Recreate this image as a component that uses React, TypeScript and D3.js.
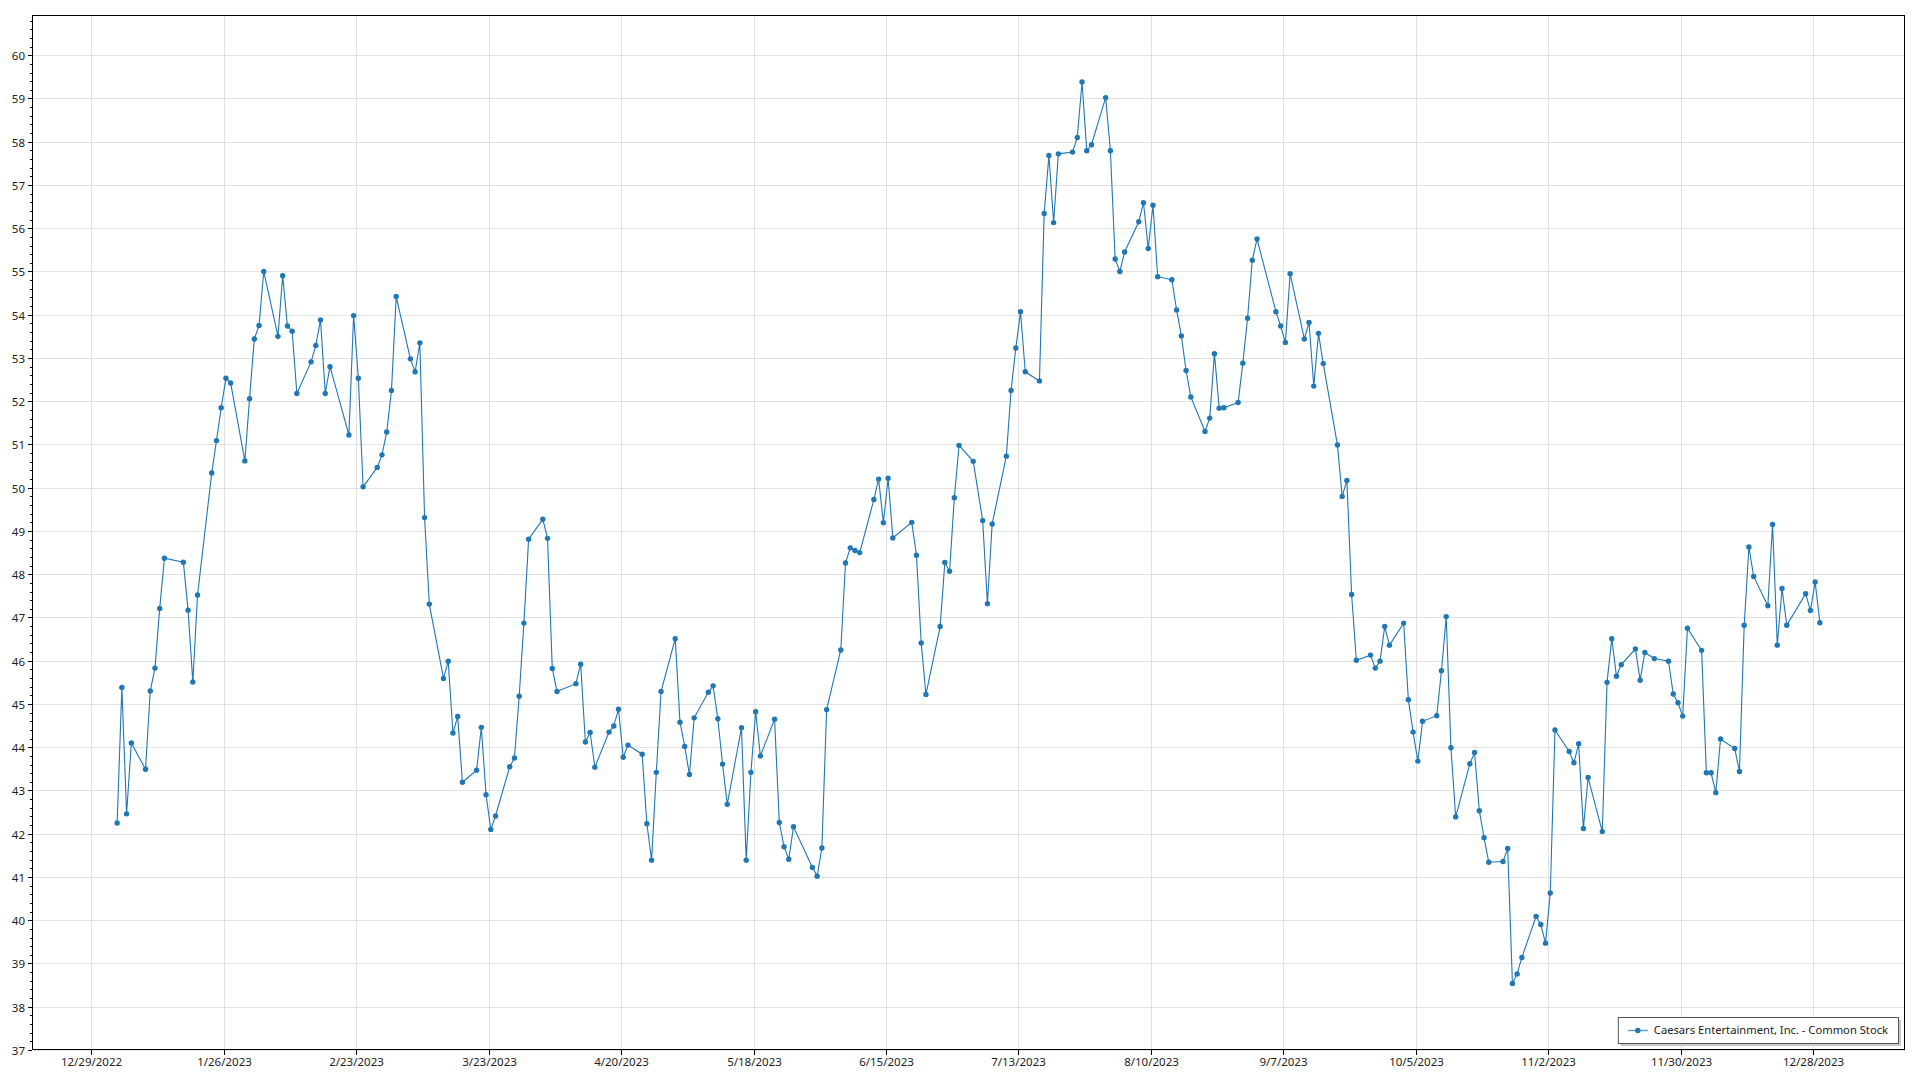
import * as d3 from 'd3';
import { useRef, useEffect } from 'react';

const year = 2023;
const seriesName = 'Caesars Entertainment, Inc. - Common Stock';

// trading days (MM-DD) and closing prices
const tradeDays = [
  '01-03', '01-04', '01-05', '01-06', '01-09', '01-10', '01-11', '01-12', '01-13', '01-17',
  '01-18', '01-19', '01-20', '01-23', '01-24', '01-25', '01-26', '01-27', '01-30', '01-31',
  '02-01', '02-02', '02-03', '02-06', '02-07', '02-08', '02-09', '02-10', '02-13', '02-14',
  '02-15', '02-16', '02-17', '02-21', '02-22', '02-23', '02-24', '02-27', '02-28',
  '03-01', '03-02', '03-03', '03-06', '03-07', '03-08', '03-09', '03-10', '03-13', '03-14',
  '03-15', '03-16', '03-17', '03-20', '03-21', '03-22', '03-23', '03-24', '03-27', '03-28',
  '03-29', '03-30', '03-31',
  '04-03', '04-04', '04-05', '04-06', '04-10', '04-11', '04-12', '04-13', '04-14', '04-17',
  '04-18', '04-19', '04-20', '04-21', '04-24', '04-25', '04-26', '04-27', '04-28',
  '05-01', '05-02', '05-03', '05-04', '05-05', '05-08', '05-09', '05-10', '05-11', '05-12',
  '05-15', '05-16', '05-17', '05-18', '05-19', '05-22', '05-23', '05-24', '05-25', '05-26',
  '05-30', '05-31',
  '06-01', '06-02', '06-05', '06-06', '06-07', '06-08', '06-09', '06-12', '06-13', '06-14',
  '06-15', '06-16', '06-20', '06-21', '06-22', '06-23', '06-26', '06-27', '06-28', '06-29',
  '06-30',
  '07-03', '07-05', '07-06', '07-07', '07-10', '07-11', '07-12', '07-13', '07-14', '07-17',
  '07-18', '07-19', '07-20', '07-21', '07-24', '07-25', '07-26', '07-27', '07-28', '07-31',
  '08-01', '08-02', '08-03', '08-04', '08-07', '08-08', '08-09', '08-10', '08-11', '08-14',
  '08-15', '08-16', '08-17', '08-18', '08-21', '08-22', '08-23', '08-24', '08-25', '08-28',
  '08-29', '08-30', '08-31',
  '09-01', '09-05', '09-06', '09-07', '09-08', '09-11', '09-12', '09-13', '09-14', '09-15',
  '09-18', '09-19', '09-20', '09-21', '09-22', '09-25', '09-26', '09-27', '09-28', '09-29',
  '10-02', '10-03', '10-04', '10-05', '10-06', '10-09', '10-10', '10-11', '10-12', '10-13',
  '10-16', '10-17', '10-18', '10-19', '10-20', '10-23', '10-24', '10-25', '10-26', '10-27',
  '10-30', '10-31',
  '11-01', '11-02', '11-03', '11-06', '11-07', '11-08', '11-09', '11-10', '11-13', '11-14',
  '11-15', '11-16', '11-17', '11-20', '11-21', '11-22', '11-24', '11-27', '11-28', '11-29',
  '11-30',
  '12-01', '12-04', '12-05', '12-06', '12-07', '12-08', '12-11', '12-12', '12-13', '12-14',
  '12-15', '12-18', '12-19', '12-20', '12-21', '12-22', '12-26', '12-27', '12-28', '12-29',
];

const closes = [
  42.25, 45.38, 42.46, 44.1, 43.49, 45.3, 45.83, 47.21, 48.37, 48.28,
  47.17, 45.51, 47.52, 50.34, 51.09, 51.85, 52.53, 52.42, 50.62, 52.06,
  53.44, 53.75, 55.0, 53.5, 54.9, 53.74, 53.62, 52.18, 52.91, 53.29,
  53.88, 52.18, 52.8, 51.22, 53.98, 52.53, 50.02, 50.47, 50.76,
  51.29, 52.25, 54.42, 52.98, 52.68, 53.35, 49.31, 47.31, 45.59, 45.99,
  44.33, 44.71, 43.19, 43.47, 44.46, 42.9, 42.1, 42.41, 43.55, 43.75,
  45.18, 46.87, 48.81,
  49.27, 48.83, 45.82, 45.29, 45.47, 45.92, 44.12, 44.34, 43.54, 44.35,
  44.49, 44.88, 43.77, 44.05, 43.84, 42.23, 41.39, 43.42, 45.29,
  46.51, 44.58, 44.02, 43.37, 44.68, 45.27, 45.42, 44.66, 43.61, 42.68,
  44.45, 41.39, 43.42, 44.82, 43.8, 44.65, 42.26, 41.7, 41.41, 42.16,
  41.22, 41.02,
  41.67, 44.87, 46.25, 48.26, 48.61, 48.55, 48.5, 49.73, 50.2, 49.19,
  50.22, 48.84, 49.2, 48.44, 46.41, 45.22, 46.79, 48.27, 48.07, 49.77,
  50.98,
  50.61, 49.24, 47.32, 49.16, 50.73, 52.25, 53.23, 54.07, 52.68, 52.47,
  56.34, 57.68, 56.13, 57.72, 57.76, 58.1, 59.38, 57.79, 57.93, 59.02,
  57.79, 55.29, 55.0, 55.45, 56.15, 56.59, 55.53, 56.53, 54.88, 54.81,
  54.11, 53.51, 52.71, 52.1, 51.3, 51.61, 53.1, 51.84, 51.85, 51.97,
  52.88, 53.92, 55.26,
  55.75, 54.07, 53.74, 53.36, 54.95, 53.44, 53.82, 52.35, 53.57, 52.87,
  50.99, 49.8, 50.17, 47.53, 46.01, 46.13, 45.83, 45.99, 46.79, 46.36,
  46.87, 45.1, 44.35, 43.68, 44.6, 44.73, 45.77, 47.02, 43.99, 42.39,
  43.62, 43.88, 42.53, 41.91, 41.34, 41.36, 41.66, 38.54, 38.76, 39.14,
  40.09, 39.9,
  39.47, 40.63, 44.4, 43.9, 43.64, 44.08, 42.12, 43.3, 42.05, 45.5,
  46.51, 45.64, 45.91, 46.27, 45.55, 46.19, 46.05, 45.99, 45.23, 45.03,
  44.72,
  46.75, 46.24, 43.41, 43.41, 42.95, 44.19, 43.97, 43.44, 46.82, 48.63,
  47.95, 47.27, 49.15, 46.36, 47.67, 46.82, 47.55, 47.16, 47.82, 46.88,
];

const yDomain = [37, 60.93];
const yMajorTicks = d3.range(37, 61, 1);
const xTickStart = '2022-12-29';
const xTickStepDays = 28;

const font = '"Segoe UI", "Noto Sans", sans-serif';
const lineColor = '#1f77b4';

export default function App() {
  const svgRef = useRef<SVGSVGElement | null>(null);

  useEffect(() => {
    const width = 1920;
    const height = 1080;
    const plot = { left: 32, top: 15, right: 1905, bottom: 1050 };

    // closes are recorded late in the day, not at midnight
    const parse = d3.utcParse('%Y-%m-%d %H:%M');
    const data = tradeDays.map((d, i) => ({
      date: parse(`${year}-${d} 10:45`) as Date,
      value: closes[i],
    }));

    const first = data[0].date;
    const last = data[data.length - 1].date;
    const pad = (+last - +first) * 0.05;

    const x = d3
      .scaleUtc()
      .domain([new Date(+first - pad), new Date(+last + pad)])
      .range([plot.left, plot.right]);
    const y = d3.scaleLinear().domain(yDomain).range([plot.bottom, plot.top]);

    const tickStart = d3.utcParse('%Y-%m-%d')(xTickStart) as Date;
    const xTicks = d3
      .range(0, 20)
      .map((i) => d3.utcDay.offset(tickStart, i * xTickStepDays))
      .filter((d) => d >= x.domain()[0] && d <= x.domain()[1]);
    const fmt = d3.utcFormat('%-m/%-d/%Y');

    const yMinorTicks = d3
      .range(Math.round(yDomain[0] * 5), Math.floor(yDomain[1] * 5) + 1)
      .map((v) => v / 5);

    d3.select(svgRef.current).selectAll('*').remove();
    const svg = d3
      .select(svgRef.current)
      .attr('width', width)
      .attr('height', height);

    svg.append('rect').attr('width', width).attr('height', height).attr('fill', '#fff');

    // Gridlines
    const grid = svg.append('g').attr('stroke', '#e2e2e2').attr('stroke-width', 1);
    xTicks.forEach((t) => {
      const px = Math.round(x(t)) + 0.5;
      grid.append('line').attr('x1', px).attr('x2', px).attr('y1', plot.top).attr('y2', plot.bottom);
    });
    yMajorTicks.forEach((v) => {
      const py = Math.round(y(v)) + 0.5;
      grid.append('line').attr('x1', plot.left).attr('x2', plot.right).attr('y1', py).attr('y2', py);
    });

    // Y ticks and labels
    const axis = svg.append('g').attr('stroke', '#000').attr('stroke-width', 1);
    yMinorTicks.forEach((v) => {
      const py = Math.round(y(v)) + 0.5;
      axis.append('line').attr('x1', plot.left - 2).attr('x2', plot.left).attr('y1', py).attr('y2', py);
    });
    yMajorTicks.forEach((v) => {
      const py = Math.round(y(v)) + 0.5;
      axis.append('line').attr('x1', plot.left - 4).attr('x2', plot.left).attr('y1', py).attr('y2', py);
      svg
        .append('text')
        .attr('x', plot.left - 7)
        .attr('y', py)
        .attr('dy', '0.35em')
        .attr('text-anchor', 'end')
        .attr('font-family', font)
        .attr('font-size', '11.5px')
        .attr('fill', '#222')
        .text(v);
    });

    // X ticks and labels
    xTicks.forEach((t) => {
      const px = Math.round(x(t)) + 0.5;
      axis.append('line').attr('x1', px).attr('x2', px).attr('y1', plot.bottom).attr('y2', plot.bottom + 5);
      svg
        .append('text')
        .attr('x', px)
        .attr('y', plot.bottom + 16)
        .attr('text-anchor', 'middle')
        .attr('font-family', font)
        .attr('font-size', '11.5px')
        .attr('fill', '#222')
        .text(fmt(t));
    });

    // Series
    const line = d3
      .line<{ date: Date; value: number }>()
      .x((d) => x(d.date))
      .y((d) => y(d.value));

    svg
      .append('path')
      .datum(data)
      .attr('d', line)
      .attr('fill', 'none')
      .attr('stroke', lineColor)
      .attr('stroke-width', 1.1);

    svg
      .append('g')
      .selectAll('circle')
      .data(data)
      .join('circle')
      .attr('cx', (d) => x(d.date))
      .attr('cy', (d) => y(d.value))
      .attr('r', 2.7)
      .attr('fill', lineColor);

    // Plot border
    svg
      .append('rect')
      .attr('x', plot.left + 0.5)
      .attr('y', plot.top + 0.5)
      .attr('width', plot.right - plot.left - 1)
      .attr('height', plot.bottom - plot.top - 1)
      .attr('fill', 'none')
      .attr('stroke', '#000')
      .attr('stroke-width', 1);

    // Legend (bottom-right, inside the plot)
    const legend = svg.append('g');
    const shadow = legend.append('rect');
    const box = legend.append('rect');
    const label = legend
      .append('text')
      .attr('font-family', font)
      .attr('font-size', '11.2px')
      .attr('fill', '#222')
      .text(seriesName);
    const textW = (label.node() as SVGTextElement).getComputedTextLength();

    const boxRight = plot.right - 7;
    const boxBottom = plot.bottom - 7;
    const boxH = 26;
    const boxW = 10 + 20 + 6 + textW + 10;
    const boxLeft = boxRight - boxW;
    const boxTop = boxBottom - boxH;
    const midY = boxTop + boxH / 2;

    shadow
      .attr('x', boxLeft + 3)
      .attr('y', boxTop + 3)
      .attr('width', boxW)
      .attr('height', boxH)
      .attr('fill', '#c8c8c8');
    box
      .attr('x', boxLeft + 0.5)
      .attr('y', boxTop + 0.5)
      .attr('width', boxW)
      .attr('height', boxH)
      .attr('fill', '#fff')
      .attr('stroke', '#555')
      .attr('stroke-width', 1);
    legend
      .append('line')
      .attr('x1', boxLeft + 10)
      .attr('x2', boxLeft + 30)
      .attr('y1', midY + 0.5)
      .attr('y2', midY + 0.5)
      .attr('stroke', lineColor)
      .attr('stroke-opacity', 0.7)
      .attr('stroke-width', 1.5);
    legend
      .append('circle')
      .attr('cx', boxLeft + 20)
      .attr('cy', midY + 0.5)
      .attr('r', 2.7)
      .attr('fill', lineColor);
    label.attr('x', boxLeft + 36).attr('y', midY).attr('dy', '0.35em');
    label.raise();
  }, []);

  return (
    <div style={{ position: 'absolute', left: 0, top: 0 }}>
      <svg ref={svgRef} style={{ display: 'block' }} />
    </div>
  );
}
